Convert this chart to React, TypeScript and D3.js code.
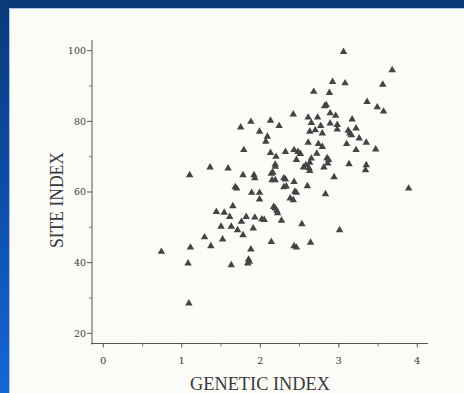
import React from 'react';
import * as d3 from 'd3';

const geneticIndex = [
  3.06, 3.68, 3.08, 2.92, 3.56, 2.68, 2.88, 3.36, 2.82, 2.84, 3.49, 3.57, 2.42, 2.61, 2.73, 2.89, 2.96, 3.17,
  1.88, 2.13, 2.24, 1.75, 2.65, 2.77, 2.89, 2.98, 2.98, 1.99, 2.63, 2.70, 2.79, 3.22, 3.12, 3.14, 3.16, 2.09,
  2.07, 3.26, 2.61, 2.74, 2.79, 3.10, 3.35, 1.79, 2.43, 2.32, 2.13, 2.20, 2.48, 2.51, 2.46, 2.72, 2.65, 2.87,
  3.22, 3.47, 2.86, 2.63, 2.58, 2.81, 2.55, 3.13, 3.35, 3.34, 1.36, 1.59, 1.10, 1.78, 1.92, 1.93, 2.16, 2.19,
  2.19, 2.15, 2.19, 2.32, 2.43, 2.63, 2.94, 2.30, 2.33, 2.60, 1.68, 1.70, 2.46, 1.99, 1.89, 1.99, 2.38, 2.42,
  2.83, 3.89, 2.17, 2.19, 2.21, 2.22, 1.65, 1.44, 1.54, 1.61, 1.82, 1.76, 1.93, 2.02, 2.05, 2.27, 2.53, 1.50,
  1.63, 1.71, 1.91, 1.78, 3.01, 1.29, 1.52, 2.14, 1.37, 1.11, 2.64, 2.43, 2.46, 1.88, 0.74, 1.85, 1.86, 1.84,
  1.08, 1.63, 1.09, 2.62, 2.85, 2.14, 2.30, 2.44
];
const siteIndex = [
  99.7, 94.5, 90.8, 91.2, 90.4, 88.4, 88.1, 85.5, 84.3, 84.6, 84.0, 82.8, 82.0, 81.1, 81.1, 82.3, 81.6, 80.6,
  79.9, 80.2, 78.7, 78.3, 79.6, 78.7, 79.4, 79.0, 77.7, 77.1, 77.1, 77.5, 76.6, 78.0, 77.4, 76.6, 76.1, 75.7,
  74.3, 75.2, 74.0, 73.6, 72.8, 73.6, 74.0, 71.9, 71.9, 71.4, 71.1, 70.0, 71.4, 70.8, 69.1, 70.9, 69.5, 69.1,
  71.9, 72.1, 68.1, 68.3, 67.6, 67.0, 67.0, 67.9, 67.6, 66.2, 67.0, 66.7, 64.8, 64.8, 64.8, 63.9, 65.5, 67.2,
  67.8, 63.4, 63.4, 63.6, 62.9, 66.0, 64.2, 61.4, 61.6, 61.7, 61.4, 61.0, 59.8, 59.8, 59.8, 57.9, 58.2, 57.7,
  59.4, 61.0, 55.8, 55.4, 54.7, 54.0, 56.0, 54.4, 54.2, 53.0, 53.0, 51.6, 52.8, 52.3, 52.1, 51.9, 50.9, 50.2,
  50.2, 49.2, 49.7, 47.8, 49.2, 47.2, 46.6, 45.9, 44.7, 44.3, 45.7, 44.7, 44.3, 43.8, 43.1, 40.9, 40.3, 39.8,
  39.8, 39.3, 28.5, 66.8, 69.6, 65.2, 63.9, 60.1
];

const xTickValues = [0, 1, 2, 3, 4];
const xMinorTicks = [0.5, 1.5, 2.5, 3.5];
const yTickValues = [20, 40, 60, 80, 100];
const yMinorTicks = [30, 50, 70, 90];
const xTitle = 'GENETIC INDEX';
const yTitle = 'SITE INDEX';

export default function App() {
  const W = 464;
  const H = 393;
  const x = d3.scaleLinear().domain([0, 4]).range([103.3, 417.3]);
  const y = d3.scaleLinear().domain([20, 100]).range([333.3, 50.7]);
  const tri = d3.symbol().type(d3.symbolTriangle).size(24)() as string;
  const axisY = 343.5;
  const axisX = 92;
  const ink = '#3a3a3a';
  const serif = '"DejaVu Serif", "Liberation Serif", serif';
  const points = geneticIndex.map((g, i) => [g, siteIndex[i]]);

  return (
    <div style={{ position: 'fixed', left: 0, top: 0, width: W, height: H }}>
      <svg width={W} height={H} viewBox={`0 0 ${W} ${H}`} style={{ display: 'block' }}>
        <defs>
          <linearGradient id="leftBand" x1="0" y1="0" x2="0" y2="1">
            <stop offset="0" stopColor="#0a3a7a" />
            <stop offset="0.5" stopColor="#0d4ea8" />
            <stop offset="1" stopColor="#1566d8" />
          </linearGradient>
        </defs>
        <rect x={0} y={0} width={W} height={H} fill="#fbfbf8" />
        <rect x={0} y={0} width={W} height={8} fill="#083a78" />
        <rect x={0} y={0} width={9} height={H} fill="url(#leftBand)" />
        <line x1={9.5} y1={8.5} x2={W} y2={8.5} stroke="#a9c6ea" strokeWidth={1} />
        <line x1={9.5} y1={8.5} x2={9.5} y2={H} stroke="#a9c6ea" strokeWidth={1} />

        {/* axes */}
        <line x1={axisX} y1={40} x2={axisX} y2={axisY + 1} stroke="#555" strokeWidth={1} />
        <line x1={axisX - 1} y1={axisY} x2={428} y2={axisY} stroke="#555" strokeWidth={1} />
        {yTickValues.map(v => (
          <g key={'yt' + v}>
            <line x1={axisX - 5} x2={axisX} y1={y(v)} y2={y(v)} stroke="#555" />
            <text x={axisX - 6} y={y(v)} dy="0.35em" textAnchor="end" fontFamily={serif} fontSize={9.5} fill={ink}>{v}</text>
          </g>
        ))}
        {yMinorTicks.map(v => (
          <line key={'ym' + v} x1={axisX - 3} x2={axisX} y1={y(v)} y2={y(v)} stroke="#777" />
        ))}
        {xTickValues.map(v => (
          <g key={'xt' + v}>
            <line x1={x(v)} x2={x(v)} y1={axisY} y2={axisY + 4} stroke="#555" />
            <text x={x(v)} y={364} textAnchor="middle" fontFamily={serif} fontSize={10} fill={ink}>{v}</text>
          </g>
        ))}
        {xMinorTicks.map(v => (
          <line key={'xm' + v} x1={x(v)} x2={x(v)} y1={axisY} y2={axisY + 3} stroke="#777" />
        ))}

        {/* titles */}
        <text x={260} y={390} textAnchor="middle" fontFamily='"Liberation Serif", serif' fontSize={18}
          textLength={140} lengthAdjust="spacingAndGlyphs" fill={ink}>{xTitle}</text>
        <text transform="translate(63,200) rotate(-90)" textAnchor="middle" fontFamily='"Liberation Serif", serif'
          fontSize={18} textLength={96} lengthAdjust="spacingAndGlyphs" fill={ink}>{yTitle}</text>

        {/* points */}
        {points.map(([g, s], i) => (
          <path key={i} d={tri} transform={`translate(${x(g)},${y(s)})`} fill="#444" />
        ))}
      </svg>
    </div>
  );
}
